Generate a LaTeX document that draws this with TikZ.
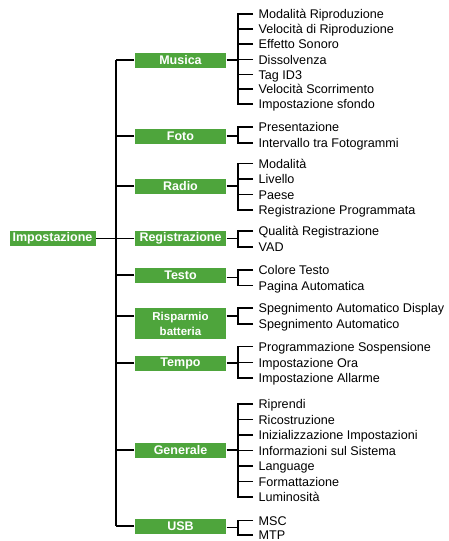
\documentclass[tikz,border=0pt]{standalone}
\usepackage{fontspec}
\setmainfont{Liberation Sans}
\definecolor{boxgreen}{RGB}{78,165,60}
\begin{document}
\begin{tikzpicture}[x=1pt,y=-1pt, line width=1.3pt,
  cat/.style={fill=boxgreen, text=white, font=\bfseries\fontsize{12.5}{14}\selectfont,
    minimum width=91pt, minimum height=15pt, inner sep=0pt, align=center},
  item/.style={anchor=west, inner xsep=5pt, inner ysep=0pt, text height=9pt, text depth=0pt,
    font=\fontsize{12.6}{14}\selectfont},
]
\useasboundingbox (0,0) rectangle (448,541);

% trunk
\coordinate (tt) at (116,60);
\coordinate (tb) at (116,526);
\draw (tt) -- (tb);

% root
\node[cat, minimum width=86pt] (imp) at (52.5,238.5) {Impostazione};

% categories
\node[cat] (mus) at (180.5,60) {Musica};
\node[cat] (fot) at (180.5,136) {Foto};
\node[cat] (rad) at (180.5,186) {Radio};
\node[cat] (reg) at (180.5,238.5) {Registrazione};
\node[cat] (tes) at (180.5,275) {Testo};
\node[cat, minimum height=31pt, font=\bfseries\fontsize{11.5}{15}\selectfont] (ris) at (180.5,323.5) {Risparmio\\batteria};
\node[cat] (tem) at (180.5,363) {Tempo};
\node[cat] (gen) at (180.5,450) {Generale};
\node[cat] (usb) at (180.5,526) {USB};

\draw (imp.east) -- (reg.west);
\foreach \c in {mus,fot,rad,reg,tes,tem,gen,usb}
  \draw (\c.west) -- (\c.west -| tt);

% sub-trunk junctions
\coordinate (jm) at (238,60);
\coordinate (jf) at (238,136);
\coordinate (jr) at (238,186);
\coordinate (jg) at (238,238.5);
\coordinate (jt) at (238,277.5);
\coordinate (js) at (238,316);
\coordinate (je) at (238,363);
\coordinate (jn) at (238,450);
\coordinate (ju) at (238,527.5);

\draw (js -| ris.west) -- (js -| tt);

\draw (mus.east) -- (jm);
\draw (fot.east) -- (fot.east -| jf);
\draw (rad.east) -- (jr);
\draw (reg.east) -- (jg);
\draw (tes.east |- jt) -- (jt);
\draw (ris.east |- js) -- (js);
\draw (tem.east) -- (je);
\draw (gen.east) -- (jn);
\draw (usb.east |- ju) -- (ju);

% Musica items
\node[item] (m1) at (253,14) {Modalità Riproduzione};
\node[item] (m2) at (253,29) {Velocità di Riproduzione};
\node[item] (m3) at (253,44) {Effetto Sonoro};
\node[item] (m4) at (253,59.5) {Dissolvenza};
\node[item] (m5) at (253,74.5) {Tag ID3};
\node[item] (m6) at (253,89) {Velocità Scorrimento};
\node[item] (m7) at (253,104) {Impostazione sfondo};
\foreach \i in {m1,m2,m3,m4,m5,m6,m7} \draw (\i.west) -| (jm);

% Foto items
\node[item] (f1) at (253,127) {Presentazione};
\node[item] (f2) at (253,143) {Intervallo tra Fotogrammi};
\foreach \i in {f1,f2} \draw (\i.west) -| (jf);

% Radio items
\node[item] (r1) at (253,163.5) {Modalità};
\node[item] (r2) at (253,179) {Livello};
\node[item] (r3) at (253,194.5) {Paese};
\node[item] (r4) at (253,210) {Registrazione Programmata};
\foreach \i in {r1,r2,r3,r4} \draw (\i.west) -| (jr);

% Registrazione items
\node[item] (g1) at (253,231) {Qualità Registrazione};
\node[item] (g2) at (253,247) {VAD};
\foreach \i in {g1,g2} \draw (\i.west) -| (jg);

% Testo items
\node[item] (t1) at (253,270) {Colore Testo};
\node[item] (t2) at (253,285.5) {Pagina Automatica};
\foreach \i in {t1,t2} \draw (\i.west) -| (jt);

% Risparmio items
\node[item] (s1) at (253,308) {Spegnimento Automatico Display};
\node[item] (s2) at (253,324) {Spegnimento Automatico};
\foreach \i in {s1,s2} \draw (\i.west) -| (js);

% Tempo items
\node[item] (e1) at (253,346.5) {Programmazione Sospensione};
\node[item] (e2) at (253,362.5) {Impostazione Ora};
\node[item] (e3) at (253,378) {Impostazione Allarme};
\foreach \i in {e1,e2,e3} \draw (\i.west) -| (je);

% Generale items
\node[item] (n1) at (253,404) {Riprendi};
\node[item] (n2) at (253,419.5) {Ricostruzione};
\node[item] (n3) at (253,435) {Inizializzazione Impostazioni};
\node[item] (n4) at (253,450.5) {Informazioni sul Sistema};
\node[item] (n5) at (253,466) {Language};
\node[item] (n6) at (253,481.5) {Formattazione};
\node[item] (n7) at (253,497) {Luminosità};
\foreach \i in {n1,n2,n3,n4,n5,n6,n7} \draw (\i.west) -| (jn);

% USB items
\node[item] (u1) at (253,520.5) {MSC};
\node[item] (u2) at (253,535) {MTP};
\foreach \i in {u1,u2} \draw (\i.west) -| (ju);
\end{tikzpicture}
\end{document}
